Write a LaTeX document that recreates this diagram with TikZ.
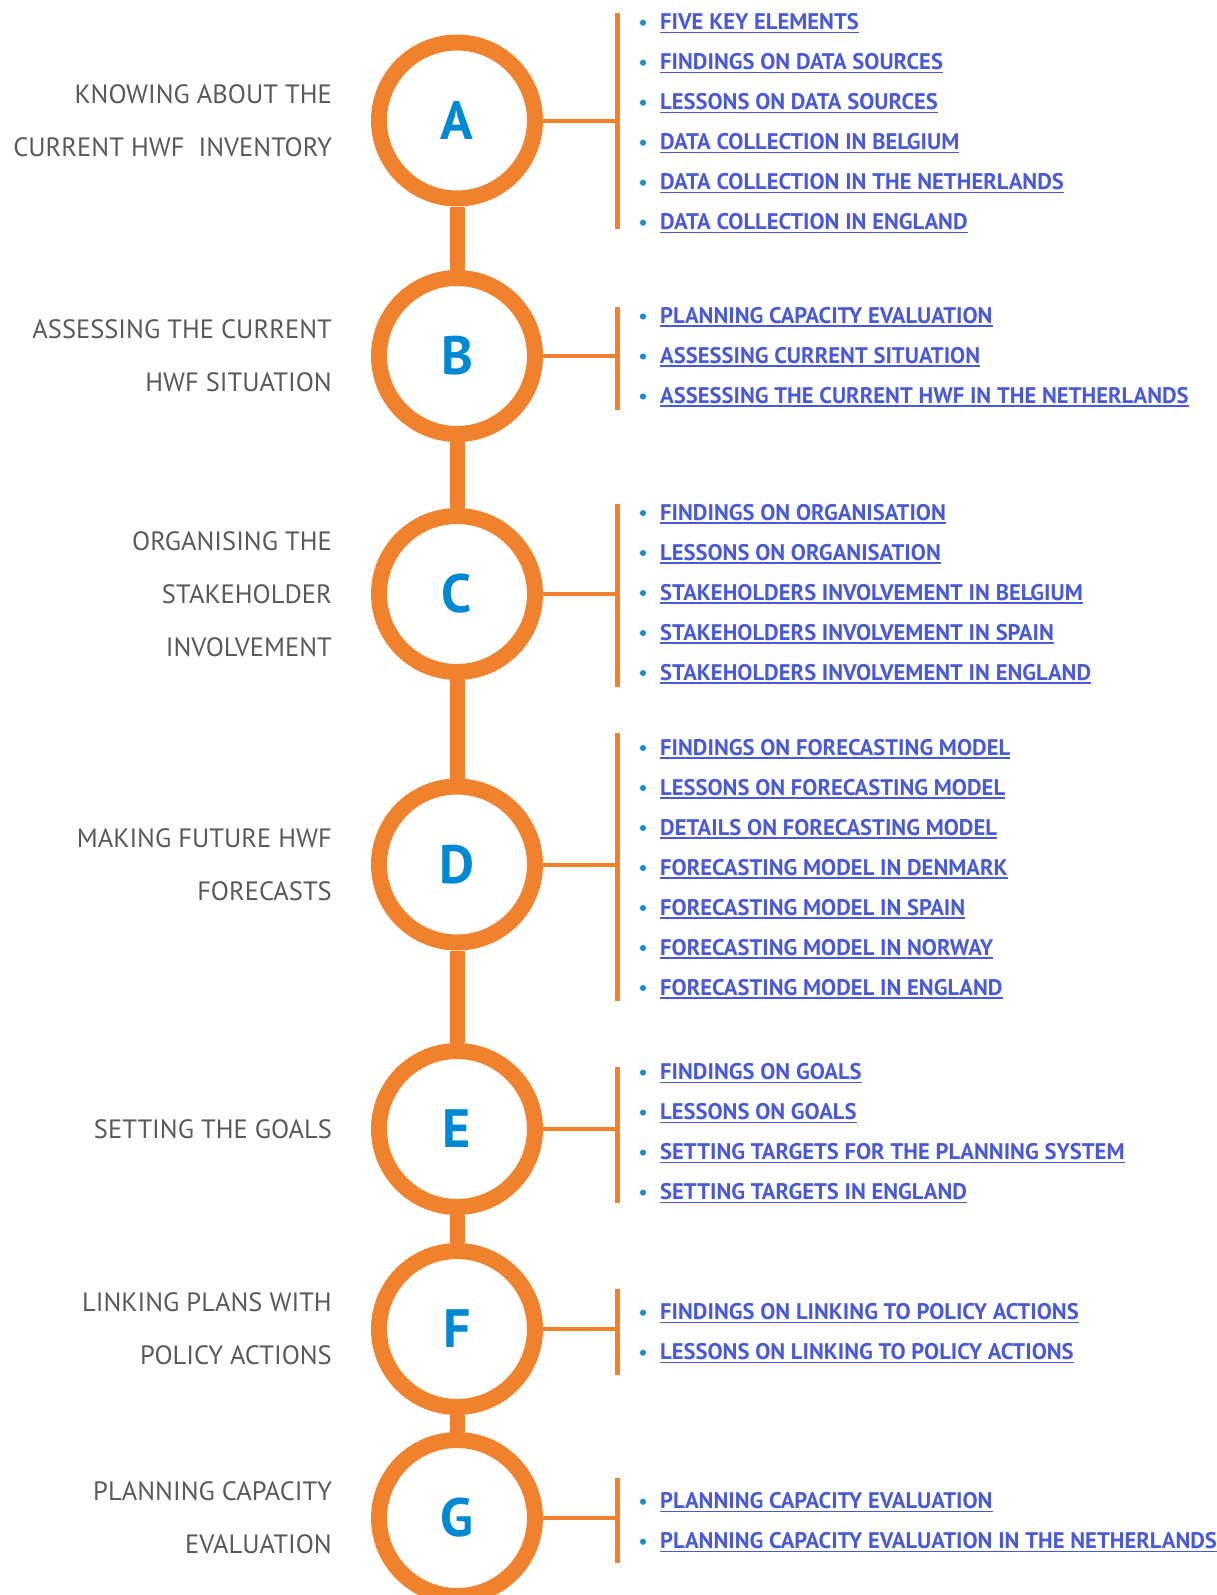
\documentclass[tikz,border=0pt]{standalone}
\usepackage{fontspec}
\setmainfont{PT Sans}
\usetikzlibrary{positioning}

\definecolor{ringorange}{HTML}{F0822D}
\definecolor{letterblue}{HTML}{0089D2}
\definecolor{linkblue}{HTML}{4A5AD6}
\definecolor{dotblue}{HTML}{1A8FD0}
\definecolor{labelgrey}{HTML}{595959}

% underlined link text
\newcommand{\linkul}[1]{\setbox0\hbox{#1}\rlap{\color{linkblue}\rule[-3.5pt]{\wd0}{1.6pt}}\box0}

\tikzset{
  phase/.style={circle, draw=ringorange, line width=16pt, fill=white, minimum size=156pt,
    inner sep=0pt, text=letterblue, font=\fontsize{54}{60}\selectfont\bfseries},
  spine/.style={draw=ringorange, line width=15pt},
  branch/.style={draw=ringorange, line width=4pt},
  bar/.style={draw=ringorange, line width=5pt},
  label/.style={anchor=east, align=right, inner sep=0pt, text=labelgrey,
    font=\fontsize{26.5}{53}\selectfont},
  itemlink/.style={anchor=base west, inner sep=0pt, text=linkblue,
    font=\fontsize{22.6}{26}\selectfont\bfseries}
}

\begin{document}
\begin{tikzpicture}[x=1pt, y=-1pt]
  \useasboundingbox (0,0) rectangle (1216,1595);

  \foreach \ph/\cy/\ytop/\ybot in {A/120.5/12.7/228.7, B/356/306.7/410, C/594/504.3/687.3,
      D/864.5/732.7/1001, E/1129/1067.4/1203, F/1329/1289/1374.7, G/1518/1477.7/1562.7} {
    \node[phase] (phase-\ph) at (457, \cy) {\ph};
    \coordinate (bar-\ph-top) at (617.5, \ytop);
    \coordinate (bar-\ph-bot) at (617.5, \ybot);
    \draw[bar] (bar-\ph-top) -- (bar-\ph-bot);
    \draw[branch] (phase-\ph.east) -- (phase-\ph.east -| bar-\ph-top);
  };

  \foreach \a/\b in {A/B, B/C, C/D, D/E, E/F, F/G}
    \draw[spine] (phase-\a.south) -- (phase-\b.north);

  \node[label] (label-A) at (332, 120.5) {KNOWING ABOUT THE\\CURRENT HWF~~INVENTORY};
  \node[label] (label-B) at (332, 356) {ASSESSING THE CURRENT\\HWF SITUATION};
  \node[label] (label-C) at (332, 594) {ORGANISING THE\\STAKEHOLDER\\INVOLVEMENT};
  \node[label] (label-D) at (332, 864.5) {MAKING FUTURE HWF\\FORECASTS};
  \node[label] (label-E) at (332, 1129) {SETTING THE GOALS};
  \node[label] (label-F) at (332, 1329) {LINKING PLANS WITH\\POLICY ACTIONS};
  \node[label] (label-G) at (332, 1518) {PLANNING CAPACITY\\EVALUATION};

  \foreach \ph/\yfirst/\lst in {
      A/22.7/{FIVE KEY ELEMENTS, FINDINGS ON DATA SOURCES, LESSONS ON DATA SOURCES,
        DATA COLLECTION IN BELGIUM, DATA COLLECTION IN THE NETHERLANDS, DATA COLLECTION IN ENGLAND},
      B/316.5/{PLANNING CAPACITY EVALUATION, ASSESSING CURRENT SITUATION,
        ASSESSING THE CURRENT HWF IN THE NETHERLANDS},
      C/513/{FINDINGS ON ORGANISATION, LESSONS ON ORGANISATION, STAKEHOLDERS INVOLVEMENT IN BELGIUM,
        STAKEHOLDERS INVOLVEMENT IN SPAIN, STAKEHOLDERS INVOLVEMENT IN ENGLAND},
      D/748/{FINDINGS ON FORECASTING MODEL, LESSONS ON FORECASTING MODEL, DETAILS ON FORECASTING MODEL,
        FORECASTING MODEL IN DENMARK, FORECASTING MODEL IN SPAIN, FORECASTING MODEL IN NORWAY,
        FORECASTING MODEL IN ENGLAND},
      E/1072.6/{FINDINGS ON GOALS, LESSONS ON GOALS, SETTING TARGETS FOR THE PLANNING SYSTEM,
        SETTING TARGETS IN ENGLAND},
      F/1312.7/{FINDINGS ON LINKING TO POLICY ACTIONS, LESSONS ON LINKING TO POLICY ACTIONS},
      G/1501.7/{PLANNING CAPACITY EVALUATION, PLANNING CAPACITY EVALUATION IN THE NETHERLANDS}} {
    \foreach \txt [count=\i] in \lst {
      \fill[dotblue] (643, {\yfirst+40*(\i-1)}) circle (3.1pt);
      \node[itemlink] (item-\ph-\i) at (660, {\yfirst+7+40*(\i-1)}) {\linkul{\txt}};
    };
  };
\end{tikzpicture}
\end{document}
